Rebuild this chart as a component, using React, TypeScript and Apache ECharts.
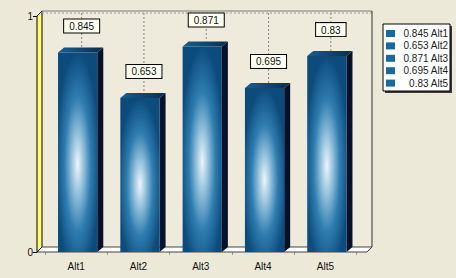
import React, { useEffect, useRef } from 'react';
import * as echarts from 'echarts';

const categories = ['Alt1', 'Alt2', 'Alt3', 'Alt4', 'Alt5'];
const values = [0.845, 0.653, 0.871, 0.695, 0.83];
const yMin = 0;
const yMax = 1;
const yInterval = 1;

const BG = '#ECE9D8';
const FONT = '"Liberation Sans", Arial, sans-serif';

export default function App() {
  const ref = useRef<HTMLDivElement>(null);
  useEffect(() => {
    const chart = echarts.init(ref.current as HTMLDivElement, null, { renderer: 'svg' });
    const D = 5;
    const BDX = 6;
    const BDY = 5;

    const frameItem = (params: any) => {
      const cs = params.coordSys;
      const FL = cs.x - 8;
      const FR = cs.x + cs.width + 10.5;
      const FT = cs.y;
      const FB = cs.y + cs.height;
      const BL = FL + D;
      const BR = FR + D;
      const BT = FT - D;
      const BB = FB - D;
      return {
        type: 'group',
        children: [
          { type: 'rect', shape: { x: BL, y: BT, width: BR - BL, height: BB - BT }, style: { fill: '#EEEBDC' } },
          { type: 'polygon', shape: { points: [[FL, FB], [BL, BB], [BR, BB], [FR, FB]] }, style: { fill: '#FFFFFF', stroke: '#444', lineWidth: 1 } },
          { type: 'polygon', shape: { points: [[FL, FT], [BL, BT], [BL, BB], [FL, FB]] }, style: { fill: '#FFFF6E', stroke: '#000', lineWidth: 1 } },
          { type: 'line', shape: { x1: BL, y1: BT, x2: BR, y2: BT }, style: { stroke: '#7a7a7a', lineWidth: 1 } },
          { type: 'line', shape: { x1: BL, y1: BT + 2, x2: BR, y2: BT + 2 }, style: { stroke: '#9a9a9a', lineWidth: 1, lineDash: [2, 2] } },
          { type: 'line', shape: { x1: BR, y1: BT, x2: BR, y2: BB }, style: { stroke: '#333', lineWidth: 1 } },
        ],
      };
    };

    const barItem = (params: any, api: any) => {
      const idx = api.value(0);
      const v = api.value(1);
      const top = api.coord([idx, v]);
      const base = api.coord([idx, 0]);
      const band = api.size([1, 0])[0];
      const w = band * 0.63;
      const cx = top[0] + 1.5;
      const L = cx - w / 2;
      const R = cx + w / 2;
      const T = top[1];
      const B = base[1];
      const BT = params.coordSys.y - D;
      const lx = cx + BDX / 2 + 1;
      return {
        type: 'group',
        children: [
          { type: 'line', shape: { x1: lx, y1: BT + 2, x2: lx, y2: T - BDY }, style: { stroke: '#8a8a8a', lineWidth: 1, lineDash: [2, 2] } },
          { type: 'polygon', shape: { points: [[R, T], [R + BDX, T - BDY], [R + BDX, B - BDY], [R, B]] }, style: { fill: '#05122a' } },
          {
            type: 'polygon',
            shape: { points: [[L, T], [L + BDX, T - BDY], [R + BDX, T - BDY], [R, T]] },
            style: {
              fill: new echarts.graphic.LinearGradient(0, 0, 1, 0, [
                { offset: 0, color: '#1a5d92' },
                { offset: 1, color: '#0a2c50' },
              ]),
            },
          },
          {
            type: 'rect',
            shape: { x: L, y: T, width: w, height: B - T },
            style: {
              fill: new echarts.graphic.RadialGradient(0.5, 0.56, 0.56, [
                { offset: 0, color: '#eef5fa' },
                { offset: 0.25, color: '#9cc6df' },
                { offset: 0.6, color: '#2f7db0' },
                { offset: 1, color: '#0c4b7c' },
              ]),
            },
          },
          {
            type: 'text',
            x: lx,
            y: T - 20,
            style: {
              text: String(v),
              fill: '#111',
              font: '10px ' + FONT,
              align: 'center',
              verticalAlign: 'bottom',
              backgroundColor: '#FFFFF2',
              borderColor: '#000',
              borderWidth: 1,
              padding: [2, 5, 1, 5],
            },
          },
        ],
      };
    };

    const legendX = 383;
    const legendY = 24;
    const legendW = 67;
    const legendH = 67;
    const rowH = 12.4;
    const legendChildren: any[] = [
      { type: 'rect', shape: { x: legendX + 2, y: legendY + 2, width: legendW, height: legendH }, style: { fill: '#3a3a3a' } },
      { type: 'rect', shape: { x: legendX, y: legendY, width: legendW, height: legendH }, style: { fill: '#FFFFFF', stroke: '#000', lineWidth: 1 } },
    ];
    categories.forEach((c, i) => {
      const cy = legendY + 9.5 + rowH * i;
      legendChildren.push({ type: 'rect', shape: { x: legendX + 3, y: cy - 3.5, width: 9, height: 7 }, style: { fill: '#166a9e' } });
      legendChildren.push({
        type: 'text',
        x: legendX + legendW - 2,
        y: cy,
        style: { text: `${values[i]} ${c}`, fill: '#222', font: '10px ' + FONT, align: 'right', verticalAlign: 'middle' },
      });
    });

    chart.setOption({
      animation: false,
      backgroundColor: BG,
      textStyle: { fontFamily: FONT },
      grid: { left: 45, top: 16, width: 311.5, height: 236 },
      xAxis: {
        type: 'category',
        data: categories,
        axisLine: { show: false },
        axisTick: { show: true, length: 3, lineStyle: { color: '#999' } },
        axisLabel: { color: '#111', fontSize: 10, margin: 9, fontFamily: FONT },
        splitLine: { show: false },
      },
      yAxis: {
        type: 'value',
        min: yMin,
        max: yMax,
        interval: yInterval,
        offset: 8,
        axisLine: { show: true, lineStyle: { color: '#000' } },
        axisTick: { show: true, length: 4, lineStyle: { color: '#000' } },
        axisLabel: { color: '#111', fontSize: 10, margin: 4, fontFamily: FONT },
        splitLine: { show: false },
      },
      graphic: [{ type: 'group', children: legendChildren, z: 100 }],
      series: [
        {
          type: 'custom',
          name: 'frame',
          renderItem: frameItem,
          data: [[0, 0]],
          encode: { x: 0, y: 1 },
          clip: false,
          z: 1,
          silent: true,
        },
        {
          type: 'custom',
          name: 'bars',
          renderItem: barItem,
          data: values.map((v, i) => [i, v]),
          encode: { x: 0, y: 1 },
          clip: false,
          z: 3,
        },
      ],
    });
    return () => chart.dispose();
  }, []);
  return (
    <div
      ref={ref}
      style={{ position: 'fixed', left: 0, top: 0, width: 456, height: 278, background: BG }}
    />
  );
}
